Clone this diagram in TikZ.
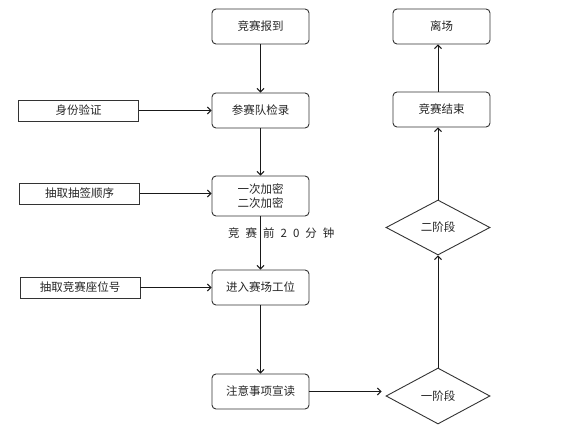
\documentclass[tikz,border=0pt]{standalone}
\usepackage{fontspec}
\setmainfont{Noto Sans CJK SC}
\usetikzlibrary{arrows.meta,shapes.geometric}
\tikzset{
  txt/.style={font=\fontsize{11.5}{13.5}\selectfont, text=black!85},
  rbox/.style={txt, draw=black!80, line width=0.9pt, rounded corners=4pt, minimum width=97pt, minimum height=35pt, inner sep=0pt},
  sbox/.style={txt, draw=black!80, line width=0.9pt, minimum width=120pt, minimum height=21pt, inner sep=0pt},
  dbox/.style={txt, draw=black!80, line width=0.9pt, diamond, minimum width=104pt, minimum height=55pt, inner sep=0pt},
  arr/.style={draw=black!90, line width=1pt, -{Straight Barb[length=3.5pt,width=7pt]}},
}
\newcommand{\gp}{\hspace{6pt}}
\begin{document}
\begin{tikzpicture}[x=1pt,y=-1pt]
\useasboundingbox (0,0) rectangle (577,438);
\node[rbox] (a) at (260.5,26.5) {竞赛报到};
\node[rbox] (b) at (260.5,110.5) {参赛队检录};
\node[rbox, minimum height=40pt, align=center] (c) at (260.5,196) {一次加密\\二次加密};
\node[rbox] (d) at (260.5,287.5) {进入赛场工位};
\node[rbox] (e) at (260.5,391.5) {注意事项宣读};
\node[sbox] (l1) at (78.5,110.5) {身份验证};
\node[sbox] (l2) at (79.5,193.5) {抽取抽签顺序};
\node[sbox] (l3) at (80,287.5) {抽取竞赛座位号};
\node[rbox] (r1) at (441.5,26.5) {离场};
\node[rbox] (r2) at (441.5,109.5) {竞赛结束};
\node[dbox] (p2) at (438,227.5) {二阶段};
\node[dbox, minimum height=56pt] (p1) at (438,396) {一阶段};
\node[txt, inner sep=0pt, anchor=west] (lab) at (228,233) {竞\gp 赛\gp 前\gp 2\gp 0\gp 分\gp 钟};
\draw[arr] (a) -- (b);
\draw[arr] (b) -- (c);
\draw[arr] (c) -- (d);
\draw[arr] (d) -- (e);
\draw[arr] (l1) -- (l1 -| b.west);
\draw[arr] (l2) -- (l2 -| c.west);
\draw[arr] (l3) -- (l3 -| d.west);
\draw[arr, shorten >=4pt] (e.east) -- (e.east -| p1.west);
\draw[arr] (p1) -- (p2);
\draw[arr] (p2.north) -- (p2.north |- r2.south);
\draw[arr] (p2.north |- r2.north) -- (p2.north |- r1.south);
\end{tikzpicture}
\end{document}
